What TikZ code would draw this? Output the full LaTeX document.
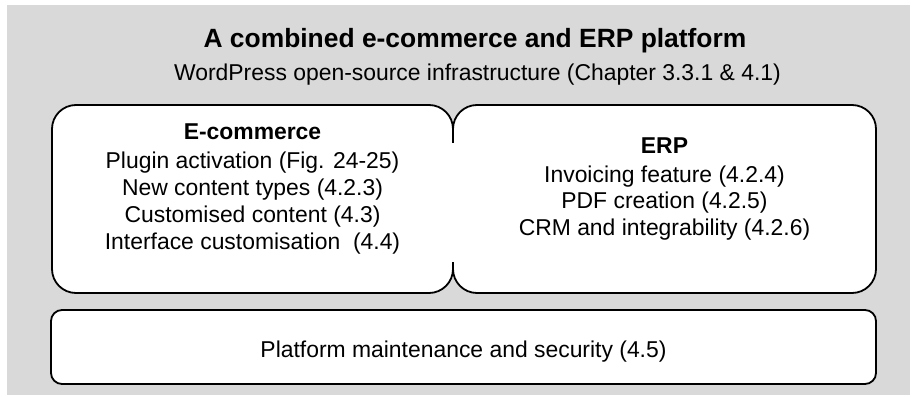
\documentclass[tikz,border=0pt]{standalone}
\usepackage{fontspec}
\setmainfont{Liberation Sans}
\definecolor{bgGray}{RGB}{217,217,217}
\begin{document}
\begin{tikzpicture}[x=1pt,y=-1pt,
  panel/.style={draw=black, line width=1.8pt, fill=white, inner sep=0pt},
  txt/.style={anchor=base, inner sep=0pt, font=\fontsize{22.9}{27}\selectfont},
  hd/.style={anchor=base, inner sep=0pt, font=\fontsize{22.9}{27}\selectfont\bfseries},
  ttl/.style={anchor=base, inner sep=0pt, font=\fontsize{26.4}{30}\selectfont\bfseries},
]
\useasboundingbox (0,0) rectangle (915,396);
% grey backdrop
\fill[bgGray] (7,5) rectangle (910,395);

% the two module panels, sharing one edge
\node[panel, rounded corners=24pt, minimum width=401pt, minimum height=188pt] (ecom) at (252.5,199) {};
\node[panel, rounded corners=24pt, minimum width=423pt, minimum height=188pt] (erp) at (664.5,199) {};
% open the shared edge between the panels
\fill[white] (450.5,143) rectangle (455.5,262);

% maintenance bar
\node[panel, rounded corners=11pt, minimum width=825pt, minimum height=74pt] (maint) at (463.5,347) {};

% heading
\node[ttl] (title) at (475,48) {A combined e-commerce and ERP platform};
\node[txt] (sub) at (477.5,80) {WordPress open-source infrastructure (Chapter 3.3.1 \& 4.1)};

% e-commerce panel text
\node[hd]  (ecH) at (252.5,139) {E-commerce};
\node[txt] (ec1) at (252.5,168) {Plugin activation (Fig. 24-25)};
\node[txt] (ec2) at (252.5,195) {New content types (4.2.3)};
\node[txt] (ec3) at (252.5,222) {Customised content (4.3)};
\node[txt] (ec4) at (252.5,249) {Interface customisation\ \ (4.4)};

% ERP panel text
\node[hd]  (erH) at (664.5,153) {ERP};
\node[txt] (er1) at (664.5,182) {Invoicing feature (4.2.4)};
\node[txt] (er2) at (664.5,208) {PDF creation (4.2.5)};
\node[txt] (er3) at (664.5,235) {CRM and integrability (4.2.6)};

% maintenance text
\node[txt] (mt) at (463.5,357.5) {Platform maintenance and security (4.5)};
\end{tikzpicture}
\end{document}
